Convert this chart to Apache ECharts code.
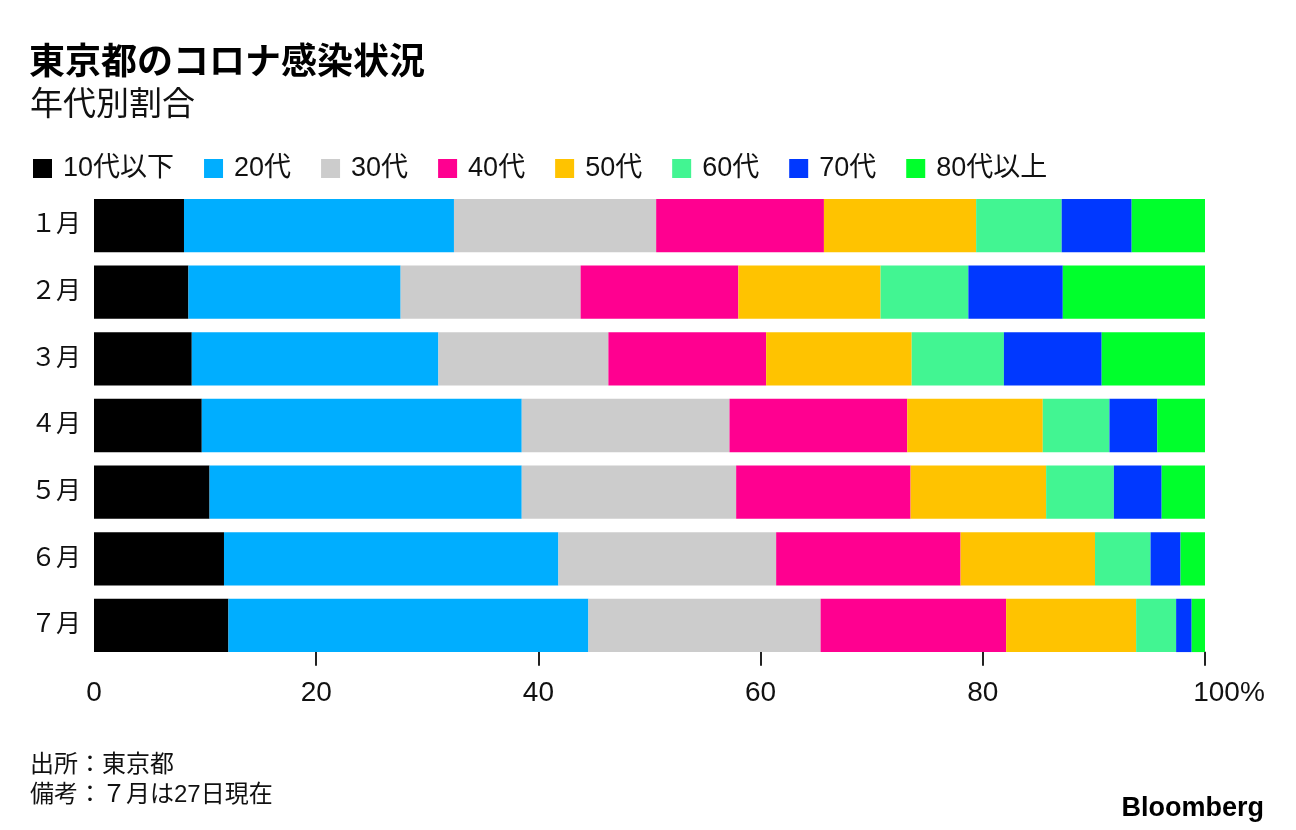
<!DOCTYPE html>
<html><head><meta charset="utf-8">
<script src="https://cdn.jsdelivr.net/npm/echarts@6/dist/echarts.min.js"></script>
<style>html,body{margin:0;padding:0;background:#fff}#c{width:1296px;height:830px}</style>
</head><body><div id="c"></div>
<script>
const months = ['１月','２月','３月','４月','５月','６月','７月'];
const ageGroups = ['10代以下','20代','30代','40代','50代','60代','70代','80代以上'];
const s10 = [8.1,8.5,8.8,9.7,10.4,11.7,12.1];
const s20 = [24.3,19.1,22.2,28.8,28.1,30.1,32.4];
const s30 = [18.2,16.2,15.3,18.7,19.3,19.6,20.9];
const s40 = [15.1,14.2,14.2,16.0,15.7,16.6,16.7];
const s50 = [13.7,12.8,13.1,12.2,12.2,12.1,11.7];
const s60 = [7.7,7.9,8.3,6.0,6.1,5.0,3.6];
const s70 = [6.3,8.5,8.8,4.3,4.3,2.7,1.4];
const s80 = [6.6,12.8,9.3,4.3,3.9,2.2,1.2];
const seriesValues = [s10,s20,s30,s40,s50,s60,s70,s80];
const colors = ['#000000','#00AEFF','#CCCCCC','#FF0090','#FFC300','#42F592','#0038FF','#00FF2C'];
const xTickValues = [20,40,60,80,100];

const FONT = '"Liberation Sans","Noto Sans CJK JP",sans-serif';
const chart = echarts.init(document.getElementById('c'), null, {renderer:'canvas'});
chart.setOption({
  backgroundColor:'#fff',
  animation:false,
  textStyle:{fontFamily:FONT,color:'#111'},
  title:[
    {text:'東京都のコロナ感染状況',left:24,top:41,textStyle:{fontFamily:FONT,fontSize:36,fontWeight:'bold',color:'#000'}},
    {text:'年代別割合',left:25,top:84,textStyle:{fontFamily:FONT,fontSize:33,fontWeight:'normal',color:'#111'}},
    {text:'出所：東京都',left:25,top:748,textStyle:{fontFamily:FONT,fontSize:24,fontWeight:'normal',color:'#111'}},
    {text:'備考：７月は27日現在',left:25,top:778,textStyle:{fontFamily:FONT,fontSize:24,fontWeight:'normal',color:'#111'}},
    {text:'Bloomberg',right:27,top:790,textStyle:{fontFamily:FONT,fontSize:27,fontWeight:'bold',color:'#000'}}
  ],
  legend:{
    left:28,top:150,icon:'rect',itemWidth:19,itemHeight:19,itemGap:30,
    data:ageGroups,
    textStyle:{fontFamily:FONT,fontSize:27,color:'#111',padding:[0,0,0,6]}
  },
  grid:{left:94,right:91,top:192.25,height:466.5,containLabel:false},
  xAxis:{
    type:'value',min:0,max:100,interval:20,offset:-7,
    axisLine:{show:false},
    splitLine:{show:false},
    axisTick:{show:true,length:14,customValues:xTickValues,lineStyle:{color:'#222',width:2}},
    axisLabel:{
      fontFamily:FONT,fontSize:28,color:'#111',margin:28,
      formatter:function(v){return v===100?'{p|100%}':String(v);},
      rich:{p:{fontFamily:FONT,fontSize:28,color:'#111',padding:[0,0,0,48]}}
    }
  },
  yAxis:{
    type:'category',data:months,inverse:true,
    axisLine:{show:false},axisTick:{show:false},
    axisLabel:{fontFamily:FONT,fontSize:25,color:'#111',margin:13}
  },
  series:ageGroups.map(function(name,i){
    return {name:name,type:'bar',stack:'total',barCategoryGap:'20%',
      itemStyle:{color:colors[i]},data:seriesValues[i]};
  })
});
</script></body></html>
